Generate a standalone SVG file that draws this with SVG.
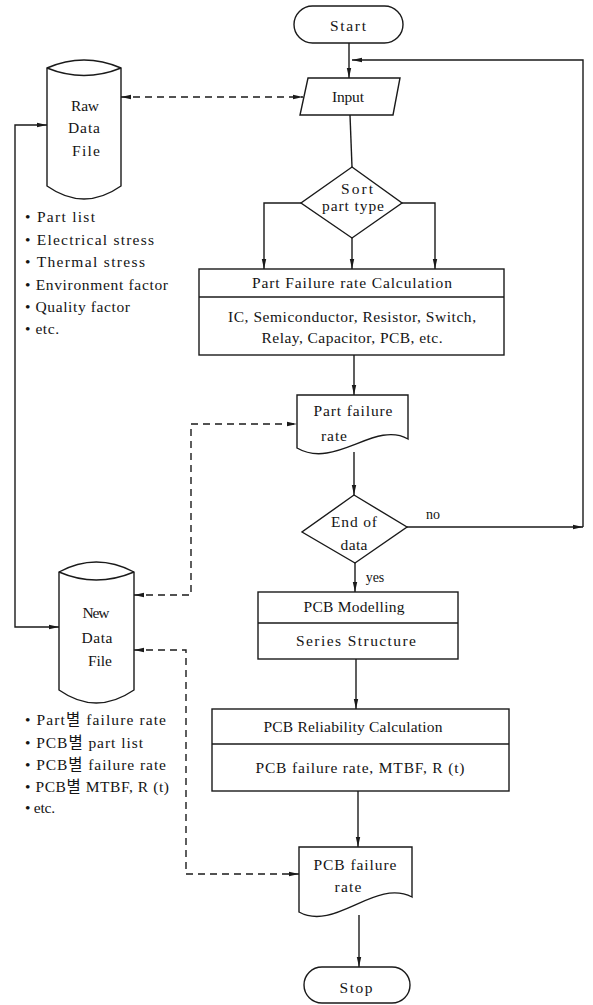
<svg xmlns="http://www.w3.org/2000/svg" width="593" height="1005" viewBox="0 0 593 1005">
<style>
.s{fill:#fff;stroke:#1a1a1a;stroke-width:1.4}
.c{fill:none;stroke:#1a1a1a;stroke-width:1.4}
.d{fill:none;stroke:#1a1a1a;stroke-width:1.4;stroke-dasharray:7 5}
text{font-family:"Liberation Serif","Noto Sans CJK KR",serif;font-size:15.5px;fill:#141414}
.m{text-anchor:middle}
.sm{font-size:14px}
</style>
<defs>
<marker id="a" viewBox="0 0 10 6" refX="10" refY="3" markerWidth="10" markerHeight="6" markerUnits="userSpaceOnUse" orient="auto-start-reverse">
<path d="M0,0.8 L10,3 L0,5.2 Z" fill="#1a1a1a"/>
</marker>
</defs>
<rect width="593" height="1005" fill="#fff"/>
<g id="connectors">
<path class="c" d="M349,43 V78" marker-end="url(#a)"/>
<path class="c" d="M583,527 V60 H352" marker-end="url(#a)"/>
<path class="c" d="M350,115 L352,167"/>
<path class="c" d="M301,203 H264 V269" marker-end="url(#a)"/>
<path class="c" d="M352,238 V269" marker-end="url(#a)"/>
<path class="c" d="M402,203 H435 V269" marker-end="url(#a)"/>
<path class="c" d="M354,355 V395" marker-end="url(#a)"/>
<path class="c" d="M354,452 V495" marker-end="url(#a)"/>
<path class="c" d="M407,527 H583" marker-end="url(#a)"/>
<path class="c" d="M355,563 V592" marker-end="url(#a)"/>
<path class="c" d="M356,659 V709" marker-end="url(#a)"/>
<path class="c" d="M358,791 V847" marker-end="url(#a)"/>
<path class="c" d="M359,915 V967" marker-end="url(#a)"/>
<path class="c" d="M59,627 H15 V125 H47" marker-start="url(#a)" marker-end="url(#a)"/>
<path class="d" d="M121,97 H303" marker-start="url(#a)" marker-end="url(#a)"/>
<path class="d" d="M134,595 H191 V424 H297" marker-start="url(#a)" marker-end="url(#a)"/>
<path class="d" d="M134,650 H186 V874 H299" marker-start="url(#a)" marker-end="url(#a)"/>
<text x="433" y="519" class="m sm">no</text>
<text x="375" y="582" class="m sm">yes</text>
</g>
<g id="start">
<rect class="s" x="294" y="6" width="109" height="37" rx="18.5"/>
<text x="348" y="31" class="m" textLength="36" lengthAdjust="spacing">Start</text>
</g>
<g id="input">
<path class="s" d="M308,78 H400 L393,115 H300 Z"/>
<text x="348" y="102" class="m" textLength="32" lengthAdjust="spacing">Input</text>
</g>
<g id="raw-data-file">
<path class="s" d="M47,68 Q84,52 121,68 V186 Q84,212 47,186 Z"/>
<path class="c" d="M47,68 Q84,83 121,68"/>
<text x="85" y="111" class="m" textLength="28" lengthAdjust="spacing">Raw</text>
<text x="84" y="133" class="m" textLength="32" lengthAdjust="spacing">Data</text>
<text x="86" y="156" class="m" textLength="28" lengthAdjust="spacing">File</text>
</g>
<g id="raw-list">
<text x="25" y="222" textLength="70" lengthAdjust="spacing">• Part list</text>
<text x="25" y="245" textLength="129" lengthAdjust="spacing">• Electrical stress</text>
<text x="25" y="267" textLength="120" lengthAdjust="spacing">• Thermal stress</text>
<text x="25" y="290" textLength="143" lengthAdjust="spacing">• Environment factor</text>
<text x="25" y="312" textLength="105" lengthAdjust="spacing">• Quality factor</text>
<text x="25" y="334" textLength="34" lengthAdjust="spacing">• etc.</text>
</g>
<g id="sort">
<path class="s" d="M352,167 L402,203 L352,238 L301,203 Z"/>
<text x="357" y="194" class="m" textLength="32" lengthAdjust="spacing">Sort</text>
<text x="353" y="211" class="m" textLength="62" lengthAdjust="spacing">part type</text>
</g>
<g id="part-calc">
<rect class="s" x="199" y="269" width="305" height="86"/>
<path class="c" d="M199,297 H504"/>
<text x="352" y="288" class="m" textLength="200" lengthAdjust="spacing">Part Failure rate Calculation</text>
<text x="352" y="322" class="m" textLength="248" lengthAdjust="spacing">IC, Semiconductor, Resistor, Switch,</text>
<text x="352" y="343" class="m" textLength="181" lengthAdjust="spacing">Relay, Capacitor, PCB, etc.</text>
</g>
<g id="part-failure-rate">
<path class="s" d="M297,395 H408 V439 C375,420 335,470 297,448 Z"/>
<text x="353" y="416" class="m" textLength="79" lengthAdjust="spacing">Part failure</text>
<text x="334" y="441" class="m" textLength="26" lengthAdjust="spacing">rate</text>
</g>
<g id="end-of-data">
<path class="s" d="M354,495 L407,527 L355,563 L302,532 Z"/>
<text x="354" y="527" class="m" textLength="46" lengthAdjust="spacing">End of</text>
<text x="354" y="550" class="m" textLength="27" lengthAdjust="spacing">data</text>
</g>
<g id="new-data-file">
<path class="s" d="M59,572 Q96,552 134,572 V690 Q96,716 59,690 Z"/>
<path class="c" d="M59,572 Q96,588 134,572"/>
<text x="96" y="618" class="m" textLength="27" lengthAdjust="spacing">New</text>
<text x="97" y="643" class="m" textLength="31" lengthAdjust="spacing">Data</text>
<text x="100" y="666" class="m" textLength="24" lengthAdjust="spacing">File</text>
</g>
<g id="new-list">
<text x="25" y="725" textLength="141" lengthAdjust="spacing">• Part별 failure rate</text>
<text x="25" y="748" textLength="118" lengthAdjust="spacing">• PCB별 part list</text>
<text x="25" y="770" textLength="141" lengthAdjust="spacing">• PCB별 failure rate</text>
<text x="25" y="792" textLength="144" lengthAdjust="spacing">• PCB별 MTBF, R (t)</text>
<text x="25" y="813" textLength="30" lengthAdjust="spacing">• etc.</text>
</g>
<g id="pcb-modelling">
<rect class="s" x="258" y="592" width="200" height="67"/>
<path class="c" d="M258,623 H458"/>
<text x="354" y="612" class="m" textLength="101" lengthAdjust="spacing">PCB Modelling</text>
<text x="356" y="646" class="m" textLength="120" lengthAdjust="spacing">Series Structure</text>
</g>
<g id="pcb-reliability">
<rect class="s" x="212" y="709" width="297" height="82"/>
<path class="c" d="M212,744 H509"/>
<text x="353" y="732" class="m" textLength="179" lengthAdjust="spacing">PCB Reliability Calculation</text>
<text x="360" y="773" class="m" textLength="209" lengthAdjust="spacing">PCB failure rate, MTBF, R (t)</text>
</g>
<g id="pcb-failure-rate">
<path class="s" d="M299,847 H412 V897 C375,878 335,932 299,912 Z"/>
<text x="355" y="870" class="m" textLength="83" lengthAdjust="spacing">PCB failure</text>
<text x="348" y="892" class="m" textLength="27" lengthAdjust="spacing">rate</text>
</g>
<g id="stop">
<rect class="s" x="304" y="967" width="106" height="36" rx="18"/>
<text x="356" y="993" class="m" textLength="33" lengthAdjust="spacing">Stop</text>
</g>
</svg>
